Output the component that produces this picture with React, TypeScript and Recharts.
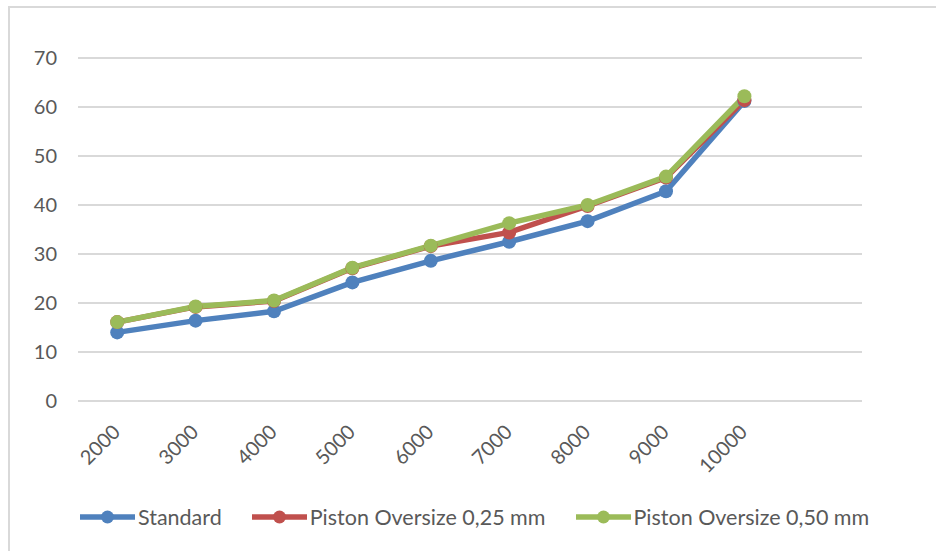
import React from "react";
import { LineChart, Line, CartesianGrid, XAxis, YAxis, Legend } from "recharts";

// engine speed (rpm); the trailing blank slot keeps Excel's spare category
const rpm = ["2000", "3000", "4000", "5000", "6000", "7000", "8000", "9000", "10000", ""];
const standard = [14, 16.4, 18.3, 24.2, 28.6, 32.5, 36.7, 42.8, 61.2, null];
const oversize025 = [16.1, 19.2, 20.4, 27.1, 31.6, 34.4, 39.8, 45.6, 61.4, null];
const oversize050 = [16.1, 19.3, 20.5, 27.2, 31.7, 36.3, 40, 45.8, 62.2, null];
const yTicks = [0, 10, 20, 30, 40, 50, 60, 70];
const seriesNames = ["Standard", "Piston Oversize 0,25 mm", "Piston Oversize 0,50 mm"];

const BLUE = "#4f81bd";
const RED = "#c0504d";
const GREEN = "#9bbb59";
const TEXT = "#595959";
const GRID = "#d9d9d9";
const FONT = "Lato, 'Open Sans', sans-serif";

const chartData = rpm.map((r, i) => ({
  rpm: r,
  standard: standard[i],
  o25: oversize025[i],
  o50: oversize050[i],
}));

const RpmTick = ({ x, y, payload }: any) => {
  if (!payload.value) return null;
  const ax = x - 6;
  const ay = y + 22;
  return (
    <text
      x={ax}
      y={ay}
      dy="0.72em"
      textAnchor="end"
      fill={TEXT}
      fontSize={20}
      fontFamily={FONT}
      transform={`rotate(-45, ${ax}, ${ay})`}
    >
      {payload.value}
    </text>
  );
};

// keep the legend in series order instead of the default alphabetical one
const LegendItems = ({ payload }: any) => {
  const items = [...(payload || [])].sort(
    (a: any, b: any) => seriesNames.indexOf(a.value) - seriesNames.indexOf(b.value)
  );
  return (
    <div
      style={{
        display: "flex",
        alignItems: "center",
        height: 28,
        fontFamily: FONT,
        fontSize: 21.5,
        color: TEXT,
      }}
    >
      {items.map((p: any) => (
        <div key={p.value} style={{ display: "flex", alignItems: "center", marginRight: 30 }}>
          <svg width={55} height={16} style={{ marginRight: 3 }}>
            <line x1={0} y1={8} x2={55} y2={8} stroke={p.color} strokeWidth={5.5} />
            <circle cx={27.5} cy={8} r={6.5} fill={p.color} />
          </svg>
          <span style={{ whiteSpace: "nowrap", lineHeight: "28px" }}>{p.value}</span>
        </div>
      ))}
    </div>
  );
};

export default function App() {
  return (
    <div style={{ position: "absolute", left: 0, top: 0, width: 936, height: 551, overflow: "hidden", background: "#fff" }}>
      <div
        style={{
          position: "absolute",
          left: 8,
          top: 6,
          width: 1000,
          height: 600,
          borderLeft: `2px solid ${GRID}`,
          borderTop: `2px solid ${GRID}`,
        }}
      />
      <div style={{ position: "absolute", left: 0, top: 0 }}>
        <LineChart width={936} height={551} data={chartData} margin={{ top: 58, right: 74, left: 0, bottom: 50 }}>
          <CartesianGrid vertical={false} stroke={GRID} strokeWidth={2} />
          <XAxis
            dataKey="rpm"
            axisLine={false}
            tickLine={false}
            tickSize={0}
            tickMargin={0}
            interval={0}
            height={72}
            padding={{ left: 39.2, right: 39.2 }}
            tick={<RpmTick />}
          />
          <YAxis
            domain={[0, 70]}
            ticks={yTicks}
            width={78}
            axisLine={false}
            tickLine={false}
            tickSize={0}
            tickMargin={21}
            tick={{ fill: TEXT, fontSize: 20, fontFamily: FONT }}
          />
          <Legend
            content={<LegendItems />}
            wrapperStyle={{ left: 80, top: 503, width: 856, bottom: "auto" }}
          />
          <Line
            dataKey="standard"
            name={seriesNames[0]}
            stroke={BLUE}
            strokeWidth={5.5}
            dot={{ r: 7, fill: BLUE, stroke: BLUE, strokeWidth: 0 }}
            isAnimationActive={false}
          />
          <Line
            dataKey="o25"
            name={seriesNames[1]}
            stroke={RED}
            strokeWidth={5.5}
            dot={{ r: 7, fill: RED, stroke: RED, strokeWidth: 0 }}
            isAnimationActive={false}
          />
          <Line
            dataKey="o50"
            name={seriesNames[2]}
            stroke={GREEN}
            strokeWidth={5.5}
            dot={{ r: 7, fill: GREEN, stroke: GREEN, strokeWidth: 0 }}
            isAnimationActive={false}
          />
        </LineChart>
      </div>
    </div>
  );
}
